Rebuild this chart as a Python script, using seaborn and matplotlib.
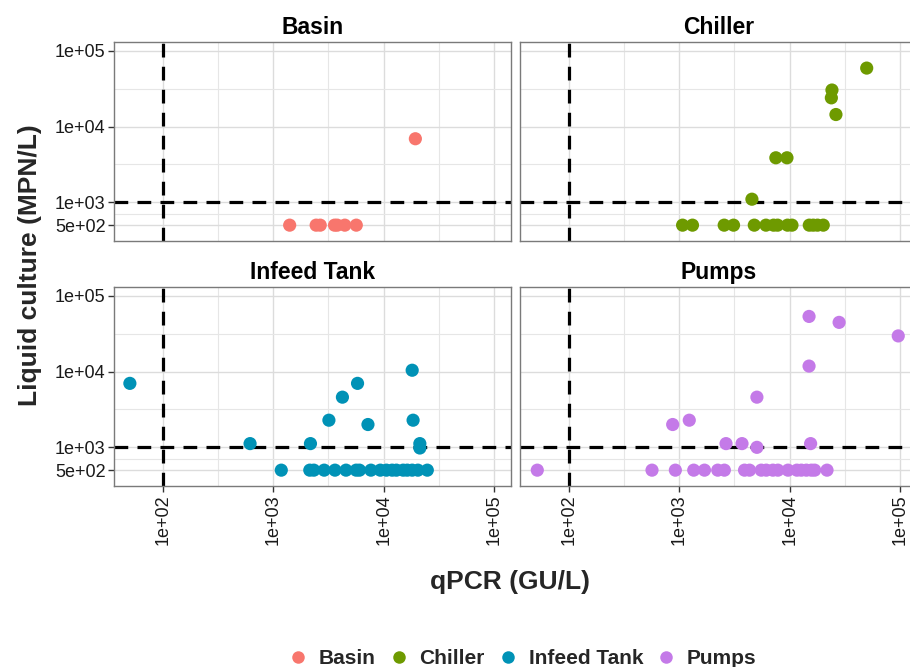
import numpy as np
import pandas as pd
import matplotlib
matplotlib.use("Agg")
import matplotlib.pyplot as plt
from matplotlib.lines import Line2D
from matplotlib.ticker import FixedLocator, NullFormatter
import seaborn as sns

# ---- data: qPCR (GU/L) vs liquid culture (MPN/L) per sampling site ----
sites = ["Basin", "Chiller", "Infeed Tank", "Pumps"]

basin_qpcr = [1406, 2444, 2661, 3589, 3794, 4446, 5650, 19400]
basin_mpn = [500, 500, 500, 500, 500, 500, 500, 6900]

chiller_qpcr = [50000, 24200, 23900, 26300, 7500, 9460, 4550,
                1070, 1315, 2550, 3100, 4780, 6100, 7150, 7780, 9570,
                10500, 15070, 16370, 17900, 20180]
chiller_mpn = [59000, 30300, 23900, 14400, 3870, 3870, 1100,
               500, 500, 500, 500, 500, 500, 500, 500, 500,
               500, 500, 500, 500, 500]

infeed_qpcr = [50, 615, 2170, 3190, 4230, 5800, 7210, 18150, 18500, 21300,
               21300, 1180,
               2140, 2330, 2890, 3620, 4560, 5640, 6040, 7670, 9330, 10600,
               11940, 13060, 15030, 16370, 18160, 20460, 24890]
infeed_mpn = [6980, 1120, 1120, 2280, 4590, 6980, 2000, 10400, 2280, 1120,
              980, 500,
              500, 500, 500, 500, 500, 500, 500, 500, 500, 500,
              500, 500, 500, 500, 500, 500, 500]

pumps_qpcr = [15000, 28100, 96600, 15000, 5050, 870, 1230, 2650, 3700, 5050,
              15500,
              51.5, 565, 920, 1350, 1690, 2230, 2560, 3900, 4330, 5530, 6140,
              7050, 7830, 9660, 11640, 12760, 14190, 15740, 16870, 21830]
pumps_mpn = [53300, 44500, 29500, 11800, 4590, 2000, 2280, 1120, 1120, 1000,
             1120,
             500, 500, 500, 500, 500, 500, 500, 500, 500, 500, 500,
             500, 500, 500, 500, 500, 500, 500, 500, 500]

x_ticks = [1e2, 1e3, 1e4, 1e5]
x_tick_labels = ["1e+02", "1e+03", "1e+04", "1e+05"]
y_ticks = [5e2, 1e3, 1e4, 1e5]
y_tick_labels = ["5e+02", "1e+03", "1e+04", "1e+05"]
qpcr_threshold = 100
culture_threshold = 1000

colors = ["#F8766D", "#6E9A00", "#0092B6", "#C47AE8"]
palette = dict(zip(sites, colors))

frames = []
for site, xs, ys in zip(sites,
                        [basin_qpcr, chiller_qpcr, infeed_qpcr, pumps_qpcr],
                        [basin_mpn, chiller_mpn, infeed_mpn, pumps_mpn]):
    frames.append(pd.DataFrame({"site": site, "qpcr": xs, "mpn": ys}))
df = pd.concat(frames, ignore_index=True)

# ---- figure ----
sns.set_theme(style="white")
plt.rcParams["font.family"] = ["Liberation Sans", "DejaVu Sans"]

W, H = 910, 667
fig = plt.figure(figsize=(W / 100, H / 100), dpi=100)
fig.patch.set_facecolor("white")


def box(left, top, width, height):
    return [left / W, 1 - (top + height) / H, width / W, height / H]


panel_boxes = {
    "Basin": box(114, 42, 397, 199),
    "Chiller": box(520, 42, 397, 199),
    "Infeed Tank": box(114, 287, 397, 199),
    "Pumps": box(520, 287, 397, 199),
}

xlim = (10 ** 1.555, 10 ** 5.155)
ylim = (10 ** 2.49, 10 ** 5.115)

for i, site in enumerate(sites):
    ax = fig.add_axes(panel_boxes[site])
    ax.set_xscale("log")
    ax.set_yscale("log")
    ax.set_xlim(*xlim)
    ax.set_ylim(*ylim)
    ax.set_facecolor("white")

    ax.xaxis.set_major_locator(FixedLocator(x_ticks))
    ax.yaxis.set_major_locator(FixedLocator(y_ticks))
    ax.xaxis.set_minor_locator(FixedLocator([10 ** 2.5, 10 ** 3.5, 10 ** 4.5]))
    ax.yaxis.set_minor_locator(FixedLocator([10 ** 2.85, 10 ** 3.5, 10 ** 4.5]))
    ax.xaxis.set_minor_formatter(NullFormatter())
    ax.yaxis.set_minor_formatter(NullFormatter())
    ax.grid(True, which="major", color="#DCDCDC", linewidth=1.0)
    ax.grid(True, which="minor", color="#E6E6E6", linewidth=0.8)
    ax.set_axisbelow(True)

    ax.axvline(qpcr_threshold, color="black", linewidth=2.3,
               linestyle=(0, (4.3, 2.9)), zorder=2)
    ax.axhline(culture_threshold, color="black", linewidth=2.3,
               linestyle=(0, (4.3, 2.9)), zorder=2)

    sns.scatterplot(data=df[df["site"] == site], x="qpcr", y="mpn",
                    hue="site", palette=palette, s=90, linewidth=0,
                    legend=False, ax=ax, zorder=3)

    ax.set_xlabel("")
    ax.set_ylabel("")
    for sp in ax.spines.values():
        sp.set_visible(True)
        sp.set_color("#7A7A7A")
        sp.set_linewidth(1.0)

    left_col = i % 2 == 0
    bottom_row = i >= 2
    ax.tick_params(which="major", length=4, width=1, color="#333333",
                   labelsize=13, labelcolor="#1A1A1A", pad=2,
                   bottom=bottom_row, left=left_col)
    ax.tick_params(which="minor", length=0)

    if left_col:
        ax.set_yticklabels(y_tick_labels)
    else:
        ax.set_yticklabels([])
    if bottom_row:
        ax.set_xticklabels(x_tick_labels, rotation=90, va="top")
    else:
        ax.set_xticklabels([])

    ax.set_title(site, fontsize=16.5, fontweight="bold", pad=6, color="black")

fig.text(30 / W, 1 - 265 / H, "Liquid culture (MPN/L)", rotation=90,
         ha="center", va="center", fontsize=19, fontweight="bold")
fig.text(510 / W, 1 - 582 / H, "qPCR (GU/L)", ha="center", va="center",
         fontsize=19, fontweight="bold")

handles = [Line2D([0], [0], marker="o", linestyle="", markersize=9,
                  markerfacecolor=c, markeredgewidth=0) for c in colors]
leg = fig.legend(handles, sites, loc="center", ncol=4,
                 bbox_to_anchor=(522 / W, 1 - 659 / H), frameon=False,
                 handletextpad=0.5, columnspacing=0.6, handlelength=1.0,
                 prop={"size": 15, "weight": "bold"})

fig.savefig("out.png", dpi=100, facecolor="white")
